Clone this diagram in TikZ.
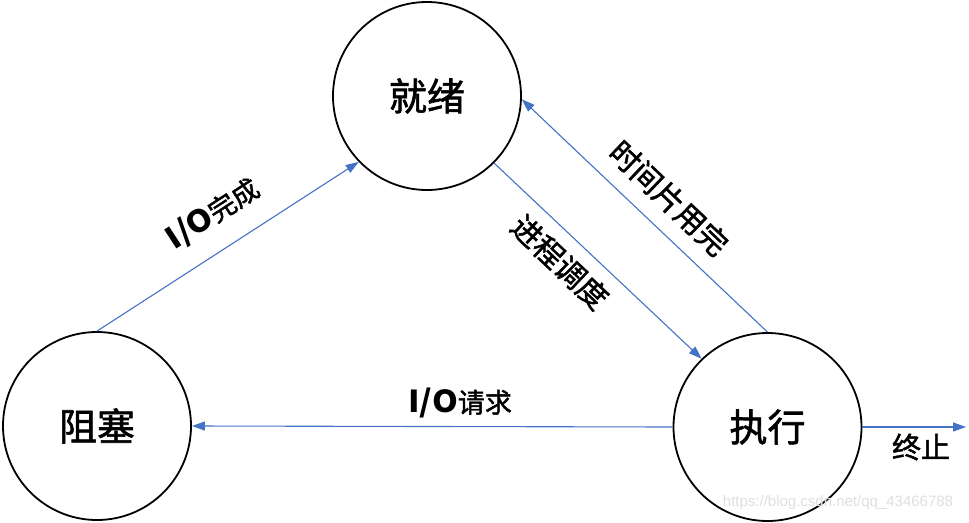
\documentclass[tikz,border=0pt]{standalone}
\usepackage{fontspec}
\setmainfont{Noto Sans CJK SC}
\newfontfamily\heavycjk{Noto Sans CJK SC}[FakeBold=1.6]
\newfontfamily\wmfont{Liberation Sans}
\usetikzlibrary{arrows.meta}
\definecolor{lineblue}{HTML}{4472C4}
\newcommand{\iolatin}{\scalebox{1.22}[1.12]{\normalfont\bfseries I/O}}
\begin{document}
\begin{tikzpicture}[x=1pt,y=-1pt,
  state/.style={circle,draw=black,line width=1.8pt,minimum size=188pt,inner sep=0pt,font=\heavycjk\fontsize{38}{42}\selectfont},
  conn/.style={draw=lineblue,line width=1.1pt,-{Triangle[length=13pt,width=9pt]}},
  lbl/.style={font=\heavycjk\fontsize{27}{30}\selectfont,inner sep=0pt},
  rlbl/.style={font=\heavycjk\fontsize{30}{33}\selectfont,inner sep=0pt}]
\useasboundingbox (0,0) rectangle (969,522);
\node[state] (jx) at (427,96) {就绪};
\node[state] (zs) at (97,426) {阻塞};
\node[state] (zx) at (767.5,427) {执行};
\coordinate (end) at (966,427);
\draw[conn] (zs.90) -- (jx.224);
\draw[conn] (jx.315) -- (zx.134);
\draw[conn] (zx.90) -- (jx.358);
\draw[conn] (zx.west) -- (zs.east);
\draw[conn] (zx.east) -- (end);
\node[lbl,rotate=33] (l1) at (213,214) {\iolatin 完成};
\node[rlbl,rotate=-43.4] (l2) at (560,262) {进程调度};
\node[rlbl,rotate=-43.6] (l3) at (669,198) {时间片用完};
\node[lbl] (l4) at (460,403) {\iolatin 请求};
\node[font=\heavycjk\fontsize{29}{32}\selectfont,inner sep=0pt] (l5) at (921,447) {终止};
\node[font=\wmfont\fontsize{15}{18}\selectfont,text=gray!25,inner sep=0pt] (wm) at (838,503) {https://blog.csdn.net/qq\_43466788};
\end{tikzpicture}
\end{document}
